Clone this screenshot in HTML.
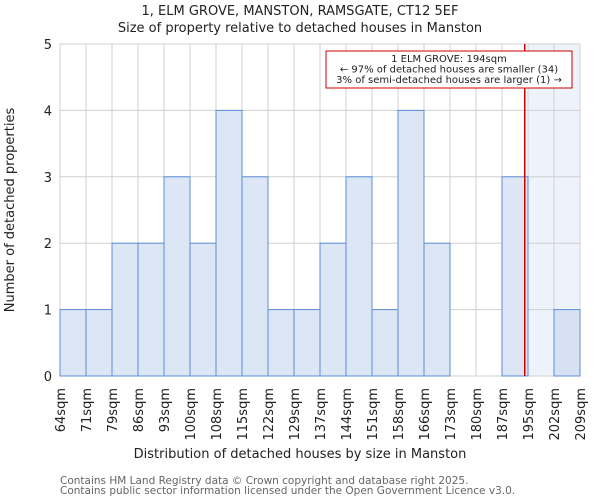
<!DOCTYPE html>
<html><head><meta charset="utf-8"><style>
body{margin:0;background:#fff;font-family:"DejaVu Sans","Liberation Sans",sans-serif}
</style></head><body>
<svg width="600" height="500" xmlns="http://www.w3.org/2000/svg" font-family="DejaVu Sans, Liberation Sans, sans-serif">
<text x="300" y="15" text-anchor="middle" font-size="13" fill="#222">1, ELM GROVE, MANSTON, RAMSGATE, CT12 5EF</text>
<text x="300" y="32" text-anchor="middle" font-size="13" fill="#222">Size of property relative to detached houses in Manston</text>
<g id="plot"></g>
<text x="300" y="458" text-anchor="middle" font-size="13" fill="#222">Distribution of detached houses by size in Manston</text>
<text transform="translate(14,210) rotate(-90)" text-anchor="middle" font-size="13" fill="#222">Number of detached properties</text>
<text x="60" y="484" font-size="10.5" fill="#666">Contains HM Land Registry data © Crown copyright and database right 2025.</text>
<text x="60" y="494" font-size="10.5" fill="#666">Contains public sector information licensed under the Open Government Licence v3.0.</text>
</svg>
<script>
const edgeLabels=["64sqm","71sqm","79sqm","86sqm","93sqm","100sqm","108sqm","115sqm","122sqm","129sqm","137sqm","144sqm","151sqm","158sqm","166sqm","173sqm","180sqm","187sqm","195sqm","202sqm","209sqm"];
const counts=[1,1,2,2,3,2,4,3,1,1,2,3,1,4,2,0,0,3,0,1];
const yTicks=[0,1,2,3,4,5];
const subjectSize=194;
const L=60,R=580,T=44,B=376,yMax=5;
const n=counts.length,bw=(R-L)/n;
const x=i=>L+i*bw;
const y=v=>B-(B-T)*v/yMax;
const edgeVals=edgeLabels.map(s=>parseFloat(s));
function xVal(v){for(let i=0;i<edgeVals.length-1;i++){if(v<=edgeVals[i+1])return x(i)+bw*(v-edgeVals[i])/(edgeVals[i+1]-edgeVals[i]);}return R;}
const ns="http://www.w3.org/2000/svg",g=document.getElementById("plot");
function mk(t,a){const e=document.createElementNS(ns,t);for(const k in a)e.setAttribute(k,a[k]);g.appendChild(e);return e;}
const sx=xVal(subjectSize);
const bi=edgeVals.findIndex(v=>v>=subjectSize);
let sh=mk("rect",{x:x(bi),y:T,width:R-x(bi),height:B-T,fill:"#eef3fb"});


for(let i=0;i<=n;i++){let l=mk("line",{x1:x(i),x2:x(i),y1:T,y2:B,stroke:"#d0d0d0","stroke-width":1});

}
yTicks.forEach(v=>{let l=mk("line",{x1:L,x2:R,y1:y(v),y2:y(v),stroke:"#d0d0d0","stroke-width":1});


let t=mk("text",{x:L-8,y:y(v)+5,"text-anchor":"end","font-size":13,fill:"#222"});t.textContent=v;

});
counts.forEach((c,i)=>{if(c<=0)return;let r=mk("rect",{x:x(i),y:y(c),width:bw,height:B-y(c),fill:i>=bi?"#d6e2f3":"#dce6f4",stroke:"#5b8fd6","stroke-width":1});

});
edgeLabels.forEach((s,i)=>{let t=mk("text",{transform:`translate(${x(i)+5},${388}) rotate(-90)`,"text-anchor":"end","font-size":13,fill:"#222"});t.textContent=s;

});
let rl=mk("line",{x1:sx,x2:sx,y1:T,y2:B,stroke:"#cc0000","stroke-width":1.5});


let bx=mk("rect",{x:326,y:51,width:246,height:37,fill:"#fff",stroke:"#cc0000","stroke-width":1});


["1 ELM GROVE: 194sqm","← 97% of detached houses are smaller (34)","3% of semi-detached houses are larger (1) →"].forEach((s,i)=>{let t=mk("text",{x:449,y:62+i*10.5,"text-anchor":"middle","font-size":10,fill:"#222"});t.textContent=s;

});
</script>
</body></html>
